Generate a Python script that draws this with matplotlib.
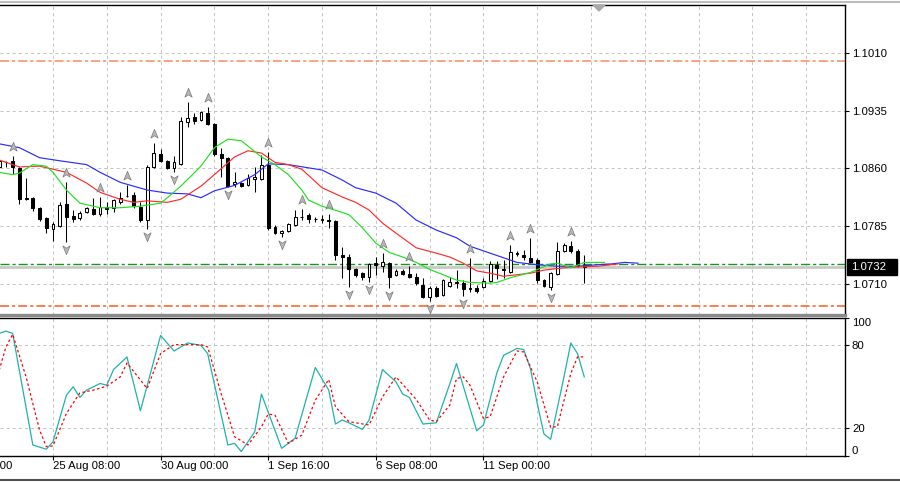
"""EURUSD H4 chart, MetaTrader style: candles, Alligator, fractals and a Stochastic panel."""

import matplotlib

matplotlib.use("Agg")
import matplotlib.pyplot as plt  # noqa: E402
import matplotlib.transforms as mtransforms  # noqa: E402
from matplotlib.lines import Line2D  # noqa: E402
from matplotlib.patches import Polygon, Rectangle  # noqa: E402
from matplotlib.path import Path  # noqa: E402

plt.rcParams["font.family"] = ["Liberation Sans", "DejaVu Sans"]
plt.rcParams["lines.scale_dashes"] = False

# ---- data (bar index 0 = 25 Aug 08:00, H4 bars) ---------------------------
bar_idx = list(range(-8, 80))
opens = [1.0862, 1.0868, 1.0870, 1.0861, 1.0821, 1.0822, 1.0809, 1.0796,
         1.0781, 1.0785, 1.0814, 1.0798, 1.0796, 1.0803, 1.0807, 1.0801,
         1.0810, 1.0809, 1.0816, 1.0824, 1.0826, 1.0810, 1.0793, 1.0862,
         1.0879, 1.0870, 1.0861, 1.0866, 1.0920, 1.0927, 1.0923, 1.0932,
         1.0918, 1.0879, 1.0874, 1.0840, 1.0841, 1.0838, 1.0846, 1.0846,
         1.0865, 1.0784, 1.0776, 1.0779, 1.0787, 1.0797, 1.0800, 1.0794,
         1.0794, 1.0793, 1.0792, 1.0748, 1.0745, 1.0729, 1.0724, 1.0719,
         1.0737, 1.0733, 1.0737, 1.0722, 1.0727, 1.0723, 1.0719, 1.0709,
         1.0693, 1.0705, 1.0696, 1.0707, 1.0712, 1.0711, 1.0703, 1.0705,
         1.0706, 1.0714, 1.0735, 1.0729, 1.0725, 1.0750, 1.0748, 1.0744,
         1.0741, 1.0715, 1.0706, 1.0723, 1.0753, 1.0759, 1.0753, 1.0735]
highs = [1.0872, 1.0870, 1.0876, 1.0862, 1.0848, 1.0823, 1.0810, 1.0797,
         1.0790, 1.0816, 1.0842, 1.0806, 1.0805, 1.0810, 1.0822, 1.0823,
         1.0816, 1.0820, 1.0829, 1.0838, 1.0829, 1.0816, 1.0865, 1.0893,
         1.0885, 1.0871, 1.0876, 1.0927, 1.0946, 1.0932, 1.0935, 1.0940,
         1.0919, 1.0887, 1.0875, 1.0855, 1.0842, 1.0853, 1.0862, 1.0877,
         1.0881, 1.0787, 1.0780, 1.0789, 1.0806, 1.0807, 1.0802, 1.0797,
         1.0800, 1.0801, 1.0793, 1.0758, 1.0749, 1.0731, 1.0725, 1.0737,
         1.0745, 1.0750, 1.0738, 1.0729, 1.0729, 1.0733, 1.0724, 1.0718,
         1.0707, 1.0707, 1.0716, 1.0719, 1.0728, 1.0715, 1.0744, 1.0709,
         1.0718, 1.0740, 1.0740, 1.0741, 1.0761, 1.0753, 1.0754, 1.0770,
         1.0744, 1.0716, 1.0725, 1.0764, 1.0763, 1.0766, 1.0755, 1.0748]
lows = [1.0859, 1.0862, 1.0853, 1.0814, 1.0819, 1.0805, 1.0792, 1.0776,
        1.0766, 1.0784, 1.0764, 1.0790, 1.0793, 1.0802, 1.0800, 1.0798,
        1.0801, 1.0803, 1.0814, 1.0823, 1.0809, 1.0790, 1.0781, 1.0861,
        1.0868, 1.0859, 1.0855, 1.0865, 1.0914, 1.0918, 1.0922, 1.0916,
        1.0876, 1.0849, 1.0836, 1.0836, 1.0836, 1.0837, 1.0829, 1.0845,
        1.0780, 1.0775, 1.0771, 1.0777, 1.0785, 1.0793, 1.0789, 1.0790,
        1.0789, 1.0783, 1.0741, 1.0718, 1.0706, 1.0719, 1.0715, 1.0712,
        1.0722, 1.0725, 1.0705, 1.0720, 1.0722, 1.0718, 1.0709, 1.0692,
        1.0688, 1.0693, 1.0694, 1.0706, 1.0705, 1.0694, 1.0699, 1.0698,
        1.0705, 1.0712, 1.0716, 1.0718, 1.0724, 1.0746, 1.0741, 1.0737,
        1.0711, 1.0706, 1.0702, 1.0722, 1.0751, 1.0750, 1.0732, 1.0711]
closes = [1.0870, 1.0868, 1.0862, 1.0820, 1.0820, 1.0809, 1.0794, 1.0783,
          1.0788, 1.0813, 1.0797, 1.0794, 1.0802, 1.0809, 1.0801, 1.0810,
          1.0807, 1.0819, 1.0822, 1.0824, 1.0811, 1.0793, 1.0862, 1.0880,
          1.0870, 1.0861, 1.0868, 1.0922, 1.0926, 1.0922, 1.0933, 1.0918,
          1.0879, 1.0874, 1.0837, 1.0842, 1.0837, 1.0848, 1.0849, 1.0865,
          1.0783, 1.0776, 1.0779, 1.0788, 1.0797, 1.0797, 1.0794, 1.0795,
          1.0793, 1.0792, 1.0748, 1.0745, 1.0729, 1.0722, 1.0719, 1.0736,
          1.0735, 1.0738, 1.0719, 1.0727, 1.0723, 1.0719, 1.0711, 1.0693,
          1.0705, 1.0694, 1.0715, 1.0712, 1.0711, 1.0703, 1.0705, 1.0701,
          1.0714, 1.0736, 1.0731, 1.0728, 1.0751, 1.0749, 1.0745, 1.0738,
          1.0715, 1.0707, 1.0724, 1.0753, 1.0761, 1.0753, 1.0735, 1.0732]

# Alligator lines (shifted forward, so they run past the last bar)
jaw_idx = [-8, -5, -2, 1, 5, 7, 10, 12, 14, 17, 20, 22, 24, 27, 30, 32, 35, 40,
           43, 45, 48, 51, 54, 57, 60, 62, 65, 67, 69, 72, 75, 78, 81, 83, 85, 87]
jaw_val = [1.0892, 1.0887, 1.0874, 1.0870, 1.0865, 1.0855, 1.0842, 1.0837,
           1.0832, 1.0828, 1.0827, 1.0822, 1.0831, 1.0838, 1.0852, 1.0866,
           1.0865, 1.0858, 1.0845, 1.0835, 1.0828, 1.0815, 1.0793, 1.0780,
           1.0770, 1.0759, 1.0750, 1.0744, 1.0738, 1.0735, 1.0733, 1.0733,
           1.0735, 1.0736, 1.0738, 1.0737]
teeth_idx = [-8, -5, -2, 2, 5, 7, 10, 12, 14, 17, 19, 22, 24, 27, 29, 31, 33,
             35, 37, 40, 43, 45, 47, 49, 51, 54, 57, 59, 61, 63, 65, 67, 69,
             71, 73, 76, 78, 81, 84]
teeth_val = [1.0871, 1.0862, 1.0863, 1.0855, 1.0841, 1.0829, 1.0820, 1.0816,
             1.0818, 1.0816, 1.0820, 1.0837, 1.0852, 1.0875, 1.0883, 1.0880,
             1.0868, 1.0865, 1.0859, 1.0835, 1.0823, 1.0816, 1.0806, 1.0789,
             1.0776, 1.0757, 1.0750, 1.0745, 1.0737, 1.0727, 1.0724, 1.0720,
             1.0722, 1.0724, 1.0728, 1.0731, 1.0732, 1.0733, 1.0736]
lips_idx = [-8, -6, -5, -3, -1, 0, 2, 4, 7, 10, 13, 16, 17, 19, 22, 24, 26, 28,
            31, 33, 35, 37, 38, 40, 43, 44, 46, 48, 50, 52, 54, 56, 58, 60, 62,
            65, 66, 68, 71, 74, 75, 77, 79, 82]
lips_val = [1.0855, 1.0852, 1.0854, 1.0865, 1.0863, 1.0855, 1.0832, 1.0815,
            1.0809, 1.0809, 1.0811, 1.0815, 1.0822, 1.0837, 1.0863, 1.0887,
            1.0898, 1.0896, 1.0875, 1.0865, 1.0852, 1.0832, 1.0819, 1.0811,
            1.0803, 1.0800, 1.0783, 1.0763, 1.0751, 1.0745, 1.0738, 1.0729,
            1.0722, 1.0715, 1.0712, 1.0711, 1.0712, 1.0718, 1.0725, 1.0736,
            1.0737, 1.0731, 1.0738, 1.0738]

fractal_up_idx = [-6, 2, 7, 11, 15, 20, 23, 32, 37, 41, 49, 53, 62, 68, 71, 77]
fractal_dn_idx = [2, 14, 18, 26, 34, 44, 47, 50, 56, 61, 74]

level_top = 1.1000
level_bottom = 1.0681
level_green = 1.0736
bid_price = 1.0732

price_ticks = [1.0710, 1.0785, 1.0860, 1.0935, 1.1010]

# Stochastic oscillator
stoch_main_idx = [-8, -7, -6, -3, -1, 0, 2, 3, 4, 5, 7, 8, 9, 11, 13, 16, 18,
                  20, 22, 23, 26, 27, 28, 30, 31, 34, 36, 39, 41, 42, 43, 44,
                  46, 47, 49, 51, 52, 53, 55, 57, 58, 59, 60, 63, 64, 65, 66,
                  67, 68, 69, 70, 71, 72, 73, 74, 75, 76, 77, 78, 79]
stoch_main_val = [88.7, 90.3, 88.7, 7.7, 4.6, 10, 43.9, 49.9, 42.2, 47.5, 52.3,
                  51.1, 62.4, 71.6, 32.5, 87.2, 75.9, 81.7, 80, 74, 7.7, 8.9,
                  2.9, 17.3, 44.6, 5.3, 12.6, 63.9, 47.5, 22.9, 25.8, 23.8, 19,
                  25.8, 62.4, 53.5, 44.6, 42.2, 22.9, 23.8, 38, 52, 66.8, 18,
                  22.2, 41, 60, 72.8, 75.2, 77.8, 76.9, 63, 38, 15.7, 11.8,
                  34.7, 57.6, 81.7, 74, 57.1]
stoch_sig_idx = [-8, -7, -6, -4, -2, -1, 0, 2, 4, 6, 8, 10, 11, 14, 16, 18, 20,
                 22, 23, 25, 27, 29, 31, 32, 33, 35, 37, 39, 41, 42, 44, 47, 49,
                 51, 54, 56, 57, 59, 60, 61, 62, 64, 65, 67, 69, 70, 72, 74, 75,
                 77, 78, 79]
stoch_sig_val = [61.9, 78.8, 88, 57.1, 18.6, 6.5, 7, 30.6, 45.5, 47.5, 50.4,
                 57.1, 67.2, 48.7, 74, 80.5, 80.5, 80.5, 78.8, 45, 13.7, 7.7,
                 21, 30.1, 29.4, 8.9, 14.9, 40.2, 55.2, 35.4, 24.6, 22.2, 42.6,
                 57.1, 40.8, 25.8, 24.6, 36.6, 55.9, 57.1, 51.1, 27, 28.2, 57.1,
                 75.9, 75.2, 53.5, 20.5, 21, 59.6, 71.6, 71.6]
stoch_levels = [20, 80]
stoch_ticks = [0, 20, 80, 100]

time_label_idx = [-16, 0, 16, 32, 48, 64]
time_labels = ["22 Aug 16:00", "25 Aug 08:00", "30 Aug 00:00", "1 Sep 16:00",
               "6 Sep 08:00", "11 Sep 00:00"]

# ---- style ---------------------------------------------------------------
INK = "#000000"
GRID = "#c4c4c4"
GRID_LS = (0, (2.2, 2.2))
FS = 8.2
W_PX, H_PX = 900, 482
BAR_PX = 6.725       # horizontal spacing of one bar
X0_PX = 53           # pixel column of bar 0
PLOT_R = 845         # right edge of the panels


def fx(px):
    return px / W_PX


def fy(py):
    return 1 - py / H_PX


fig = plt.figure(figsize=(9.0, 4.82), dpi=100)
fig.patch.set_facecolor("white")
ax = fig.add_axes([0, fy(315), fx(PLOT_R), (315 - 5) / H_PX])
ax_st = fig.add_axes([0, fy(456), fx(PLOT_R), (456 - 317.5) / H_PX])

xlim = (-X0_PX / BAR_PX, (PLOT_R - X0_PX) / BAR_PX)
grid_idx = list(range(0, int(xlim[1]) + 1, 8))

# ---- main price panel ----------------------------------------------------
ax.set_xlim(*xlim)
ax.set_ylim(1.06697, 1.10723)

ax.axhline(level_top, color="#f8a482", lw=1.4, ls=(0, (6.5, 2.2, 2.2, 2.2)), zorder=2)
ax.axhline(level_bottom, color="#ff5a22", lw=1.1, ls=(0, (6.5, 2.2, 2.2, 2.2)), zorder=2)
ax.axhline(bid_price, color="#c9c9c9", lw=2.0, zorder=1.5)
ax.axhline(level_green, color="#1d931d", lw=1.0, ls=(0, (6.5, 2.2, 2.2, 2.2)), zorder=2)

ax.vlines(bar_idx, lows, highs, color=INK, lw=0.75, zorder=3)
bottoms = [min(o, c) for o, c in zip(opens, closes)]
heights = [max(abs(c - o), 0.00001) for o, c in zip(opens, closes)]
faces = ["white" if c >= o else INK for o, c in zip(opens, closes)]
ax.bar(bar_idx, heights, bottom=bottoms, width=0.42, color=faces,
       edgecolor=INK, lw=0.75, zorder=3.5)

ax.plot(jaw_idx, jaw_val, color="#2b2bff", lw=0.85, zorder=4)
ax.plot(teeth_idx, teeth_val, color="#ff2b2b", lw=0.85, zorder=4)
ax.plot(lips_idx, lips_val, color="#22e022", lw=0.85, zorder=4)

# fractal arrows
up_mark = Path([(0, 1), (0.7, -0.7), (0, -0.25), (-0.7, -0.7), (0, 1)],
               [Path.MOVETO, Path.LINETO, Path.LINETO, Path.LINETO, Path.CLOSEPOLY])
dn_mark = Path([(0, -1), (0.7, 0.7), (0, 0.25), (-0.7, 0.7), (0, -1)],
               [Path.MOVETO, Path.LINETO, Path.LINETO, Path.LINETO, Path.CLOSEPOLY])
up_tr = mtransforms.offset_copy(ax.transData, fig=fig, x=0, y=9, units="dots")
dn_tr = mtransforms.offset_copy(ax.transData, fig=fig, x=0, y=-7, units="dots")
ax.plot(fractal_up_idx, [highs[bar_idx.index(k)] for k in fractal_up_idx],
        ls="none", marker=up_mark, ms=7.5, mfc="#b8b8b8", mec="#7a7a7a",
        mew=0.5, transform=up_tr, zorder=5)
ax.plot(fractal_dn_idx, [lows[bar_idx.index(k)] for k in fractal_dn_idx],
        ls="none", marker=dn_mark, ms=7.5, mfc="#b8b8b8", mec="#7a7a7a",
        mew=0.5, transform=dn_tr, zorder=5)

ax.set_xticks(grid_idx)
ax.tick_params(axis="x", length=0, labelbottom=False)
ax.yaxis.tick_right()
ax.set_yticks(price_ticks)
ax.set_yticklabels([f"{v:.4f}" for v in price_ticks])
ax.tick_params(axis="y", direction="out", length=3, width=0.8, pad=2,
               labelsize=FS, colors=INK)
ax.grid(True, color=GRID, lw=0.7, ls=GRID_LS, zorder=0)
ax.set_axisbelow(True)
ax.spines["left"].set_visible(False)
ax.spines["bottom"].set_color("#8a8a8a")
ax.spines["bottom"].set_linewidth(2.4)
for s in ("top", "right"):
    ax.spines[s].set_color(INK)
    ax.spines[s].set_linewidth(1.0)

# bid price box on the price scale
yd = ax.transData.transform((0, bid_price))[1]
yb = yd / fig.bbox.height
fig.patches.append(Rectangle((fx(847), yb - 8 / H_PX), 50 / W_PX, 16 / H_PX,
                             transform=fig.transFigure, color=INK, zorder=10))
fig.text(fx(851), yb, f"{bid_price:.4f}", color="white", fontsize=FS,
         va="center", ha="left", zorder=11)

# ---- stochastic panel ----------------------------------------------------
ax_st.set_xlim(*xlim)
ax_st.set_ylim(-0.3, 100.2)
for lv in stoch_levels:
    ax_st.axhline(lv, color=GRID, lw=0.7, ls=GRID_LS, zorder=0)
ax_st.plot(stoch_main_idx, stoch_main_val, color="#20b2aa", lw=0.9, zorder=3)
ax_st.plot(stoch_sig_idx, stoch_sig_val, color="#ff0000", lw=0.9,
           ls=(0, (1.8, 1.8)), zorder=3)

vis_labels = [k for k in time_label_idx if xlim[0] <= k <= xlim[1]]
ax_st.set_xticks(vis_labels)
ax_st.set_xticks(grid_idx, minor=True)
ax_st.tick_params(axis="x", which="major", direction="out", length=3,
                  width=0.8, labelbottom=False)
ax_st.tick_params(axis="x", which="minor", length=0)
ax_st.grid(True, axis="x", which="both", color=GRID, lw=0.7, ls=GRID_LS, zorder=0)
for k, lab in zip(time_label_idx, time_labels):
    ax_st.text(k, -0.035, lab, transform=ax_st.get_xaxis_transform(),
               ha="left", va="top", fontsize=FS, color=INK, clip_on=False)

ax_st.yaxis.tick_right()
ax_st.set_yticks(stoch_ticks)
ax_st.set_yticklabels([str(v) for v in stoch_ticks])
ax_st.tick_params(axis="y", direction="out", length=3, width=0.8, pad=2,
                  labelsize=FS, colors=INK)
for lab, v in zip(ax_st.get_yticklabels(), stoch_ticks):
    if v == 100:
        lab.set_va("top")
    elif v == 0:
        lab.set_va("bottom")
ax_st.spines["left"].set_visible(False)
for s in ("top", "right", "bottom"):
    ax_st.spines[s].set_color(INK)
    ax_st.spines[s].set_linewidth(1.0)

# ---- window frame bits ---------------------------------------------------
fig.add_artist(Line2D([0, 1], [fy(1.5), fy(1.5)], color="#bdbdbd", lw=1.5,
                      transform=fig.transFigure))
fig.add_artist(Line2D([0, 1], [fy(480), fy(480)], color="#505050", lw=1.5,
                      transform=fig.transFigure))
# chart-shift marker
fig.add_artist(Polygon([(fx(593), fy(5)), (fx(605), fy(5)), (fx(599), fy(11))],
                       closed=True, color="#a9a9a9", transform=fig.transFigure))

fig.savefig("out.png", dpi=100, facecolor="white")
